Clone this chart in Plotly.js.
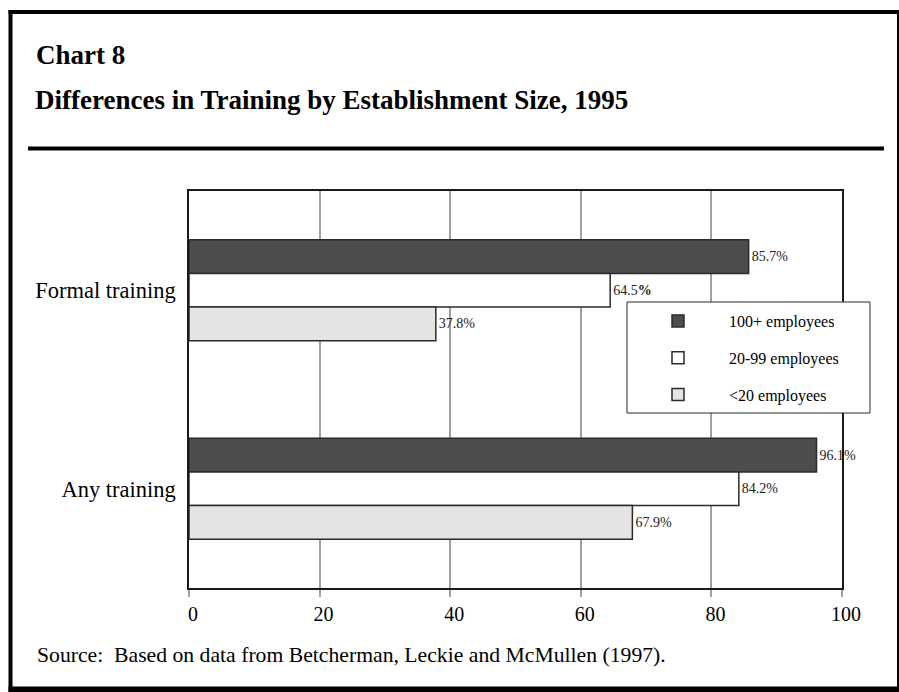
<!DOCTYPE html>
<html>
<head>
<meta charset="utf-8">
<script src="https://cdn.plot.ly/plotly-3.0.1.min.js"></script>
<style>
  html, body { margin: 0; padding: 0; background: #ffffff; }
  #chart { width: 899px; height: 692px; }
</style>
</head>
<body>
<div id="chart"></div>
<script>
// ---- data ----
const categories = ['Formal training', 'Any training'];
const seriesNames = ['100+ employees', '20-99 employees', '<20 employees'];
const values100plus = [85.7, 96.1];
const values20to99 = [64.5, 84.2];
const valuesUnder20 = [37.8, 67.9];
const labels100plus = ['85.7%', '96.1%'];
const labels20to99 = ['64.5<b>%</b>', '84.2%'];
const labelsUnder20 = ['37.8%', '67.9%'];
const xTickValues = [0, 20, 40, 60, 80, 100];
const chartNumber = 'Chart 8';
const chartTitle = 'Differences in Training by Establishment Size, 1995';
const sourceNote = 'Source:  Based on data from Betcherman, Leckie and McMullen (1997).';

// ---- style ----
const FONT = 'Liberation Serif, Times New Roman, serif';
const fills = ['#4d4d4d', '#ffffff', '#e4e4e4'];
const W = 899, H = 692;
const M = { l: 189, r: 57, t: 191, b: 104 };
const pw = W - M.l - M.r, ph = H - M.t - M.b;
const px = x => (x - M.l) / pw;
const py = y => (H - M.b - y) / ph;

const seriesValues = [values100plus, values20to99, valuesUnder20];
const seriesLabels = [labels100plus, labels20to99, labelsUnder20];

const traces = seriesNames.map((name, i) => ({
  type: 'bar',
  orientation: 'h',
  name: name,
  y: categories,
  x: seriesValues[i],
  text: seriesLabels[i],
  textposition: 'outside',
  textfont: { family: FONT, size: 14, color: '#222' },
  constraintext: 'none',
  cliponaxis: false,
  hoverinfo: 'x+name',
  marker: { color: fills[i], line: { color: '#2b2b2b', width: 1.5 } },
  legendgroup: 'g' + i
}));

function rect(x0, y0, x1, y1, fill) {
  return { type: 'rect', xref: 'paper', yref: 'paper', x0: px(x0), x1: px(x1), y0: py(y0), y1: py(y1),
           fillcolor: fill, line: { width: 0 }, layer: 'above' };
}

const shapes = [
  // outer frame
  rect(8.5, 10, 898, 14, '#000'),
  rect(8.5, 10, 12.5, 692, '#000'),
  rect(897, 10, 899, 692, '#000'),
  rect(8.5, 686.5, 899, 692, '#000'),
  // rule under title
  rect(28, 146.5, 884, 150.5, '#000'),
  // legend box
  { type: 'rect', xref: 'paper', yref: 'paper', x0: px(627), x1: px(870), y0: py(302), y1: py(413),
    fillcolor: '#ffffff', line: { color: '#2b2b2b', width: 1 }, layer: 'above' }
];

const layout = {
  width: W, height: H,
  margin: M,
  paper_bgcolor: '#ffffff',
  plot_bgcolor: '#ffffff',
  font: { family: FONT, color: '#000' },
  title: {
    text: '<b>' + chartTitle + '</b>',
    font: { family: FONT, size: 27, color: '#000' },
    xref: 'container', yref: 'container',
    x: 35 / W, xanchor: 'left',
    y: 1 - 100 / H, yanchor: 'middle'
  },
  barmode: 'group',
  bargap: 0.49,
  bargroupgap: 0,
  showlegend: true,
  legend: {
    x: px(627), xanchor: 'left',
    y: py(304), yanchor: 'top',
    bgcolor: 'rgba(0,0,0,0)',
    borderwidth: 0,
    font: { family: FONT, size: 16, color: '#000' },
    itemwidth: 92,
    tracegroupgap: 13,
    traceorder: 'grouped',
    itemclick: false, itemdoubleclick: false
  },
  xaxis: {
    range: [0, 100],
    tickvals: xTickValues,
    ticktext: xTickValues.map(String),
    tickfont: { family: FONT, size: 20, color: '#000' },
    ticklabelshift: 4,
    ticks: 'outside', ticklen: 7, tickcolor: '#a0a0a0', tickwidth: 1.5,
    showgrid: true, gridcolor: '#a0a0a0', gridwidth: 1.5,
    zeroline: false,
    showline: true, linecolor: '#1a1a1a', linewidth: 1.5, mirror: true,
    fixedrange: true
  },
  yaxis: {
    type: 'category',
    categoryorder: 'array',
    categoryarray: categories,
    range: [1.5, -0.5],
    tickfont: { family: FONT, size: 22.5, color: '#000' },
    ticks: '',
    ticklabelstandoff: 7,
    showgrid: false,
    zeroline: false,
    showline: true, linecolor: '#1a1a1a', linewidth: 1.5, mirror: true,
    fixedrange: true
  },
  shapes: shapes,
  annotations: [
    { text: '<b>' + chartNumber + '</b>', xref: 'paper', yref: 'paper', x: px(34), y: py(55),
      xanchor: 'left', yanchor: 'middle', showarrow: false,
      font: { family: FONT, size: 27, color: '#000' } },
    { text: sourceNote, xref: 'paper', yref: 'paper', x: px(35), y: py(655),
      xanchor: 'left', yanchor: 'middle', showarrow: false,
      font: { family: FONT, size: 21.7, color: '#000' } }
  ]
};

Plotly.newPlot('chart', traces, layout, { displayModeBar: false, staticPlot: false });
</script>
</body>
</html>
